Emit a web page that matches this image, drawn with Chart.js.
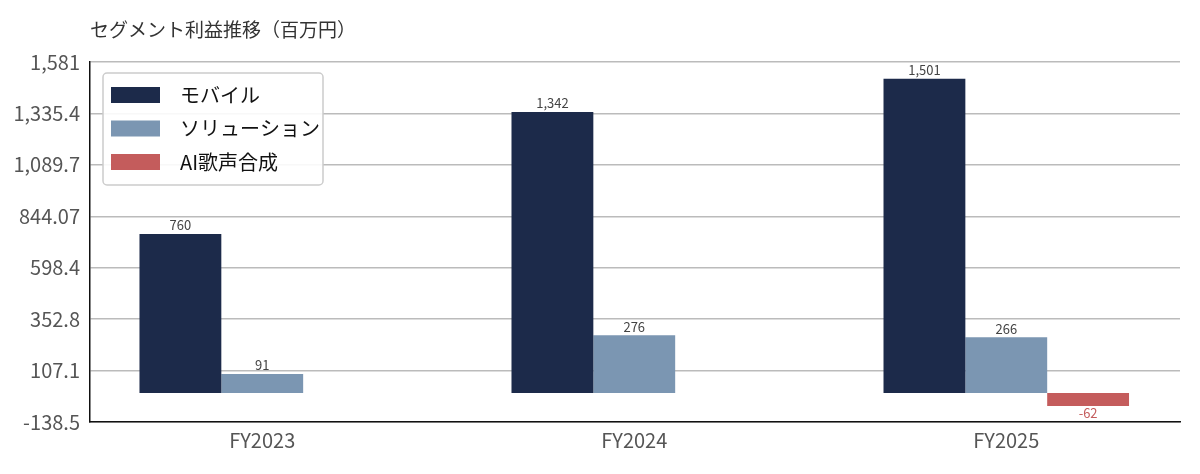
<!DOCTYPE html>
<html><head><meta charset="utf-8">
<script src="https://cdn.jsdelivr.net/npm/chart.js@4"></script>
<style>body{margin:0;background:#fff}#w{width:1200px;height:474px}</style>
</head><body><div id="w"><canvas id="c"></canvas></div>
<script>
const categories = ['FY2023','FY2024','FY2025'];
const seriesNames = ['モバイル','ソリューション','AI歌声合成'];
const mobile = [760, 1342, 1501];
const solution = [91, 276, 266];
const aiVoice = [null, null, -62];
const labelsMobile = ['760','1,342','1,501'];
const labelsSolution = ['91','276','266'];
const labelsAi = ['', '', '-62'];
const colors = ['#1c2a4a','#7b96b2','#c45c5c'];
const FONT = '"Noto Sans CJK JP","Noto Sans",sans-serif';

const mk = (arr) => arr.map((v,i)=>({x:i,y:v}));
const dataLabels = [labelsMobile, labelsSolution, labelsAi];

const overlay = {
  id:'overlay',
  afterDraw(chart){
    const ctx = chart.ctx;
    ctx.save();
    ctx.fillStyle='#333'; ctx.font='19px '+FONT; ctx.textBaseline='middle'; ctx.textAlign='left';
    ctx.fillText('セグメント利益推移（百万円）', 90, 30);
    // data labels
    chart.data.datasets.forEach((ds,di)=>{
      chart.getDatasetMeta(di).data.forEach((bar,i)=>{
        const v = ds.data[i].y; if(v==null) return;
        const t = dataLabels[di][i];
        ctx.font='13px '+FONT; ctx.textAlign='center';
        if(v>=0){ctx.fillStyle='#444'; ctx.textBaseline='bottom'; ctx.fillText(t, bar.x, bar.y-2);}
        else {ctx.fillStyle=colors[2]; ctx.textBaseline='top'; ctx.fillText(t, bar.x, bar.y+1);}
      });
    });
    // legend
    const x0=103,y0=73,w=220,h=112;
    ctx.fillStyle='rgba(255,255,255,0.9)'; ctx.strokeStyle='#ccc'; ctx.lineWidth=1.5;
    ctx.beginPath(); ctx.roundRect(x0,y0,w,h,4); ctx.fill(); ctx.stroke();
    seriesNames.forEach((n,i)=>{
      const cy = 95 + i*33.5;
      ctx.fillStyle=colors[i]; ctx.fillRect(111, cy-8, 49, 16);
      ctx.fillStyle='#111'; ctx.font='20px '+FONT; ctx.textAlign='left'; ctx.textBaseline='middle';
      ctx.fillText(n, 180, cy);
    });
    ctx.restore();
  }
};

new Chart(document.getElementById('c'), {
  type:'bar',
  data:{datasets:[
    {label:seriesNames[0], data:mk(mobile), backgroundColor:colors[0]},
    {label:seriesNames[1], data:mk(solution), backgroundColor:colors[1]},
    {label:seriesNames[2], data:mk(aiVoice), backgroundColor:colors[2]}
  ]},
  options:{
    responsive:true, maintainAspectRatio:false, animation:false,
    categoryPercentage:0.66, barPercentage:1, skipNull:false,
    layout:{padding:{top:62,right:20,left:0,bottom:0}},
    plugins:{legend:{display:false},tooltip:{enabled:false}},
    scales:{
      x:{type:'linear', min:-0.463, max:2.467, offset:false,
        afterFit(s){s.height=52;},
        ticks:{stepSize:1, autoSkip:false, color:'#555', font:{size:20,family:FONT}, padding:6,
          callback:(v)=>Number.isInteger(v)&&categories[v]?categories[v]:''},
        afterBuildTicks(s){s.ticks=[0,1,2].map(v=>({value:v}));},
        grid:{display:false, drawTicks:false},
        border:{display:true,color:'#111',width:1.5}},
      y:{min:-138.5, max:1581,
        afterFit(s){s.width=90;},
        ticks:{stepSize:250, includeBounds:false, color:'#555', font:{size:20,family:FONT}, padding:10},
        grid:{color:'#bbb', lineWidth:1.5, drawTicks:false},
        border:{display:true,color:'#111',width:1.5}}
    }
  },
  plugins:[overlay]
});
</script></body></html>
